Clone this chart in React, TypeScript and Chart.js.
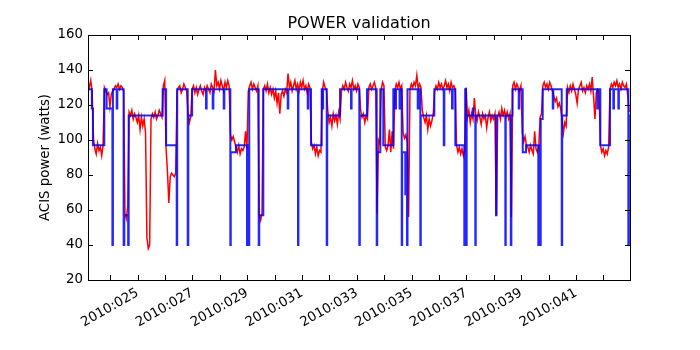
import React, { useEffect, useRef } from 'react';
import { Chart, registerables } from 'chart.js';

Chart.register(...registerables);

const chartTitle = 'POWER validation';
const yAxisTitle = 'ACIS power (watts)';
const xMin = 23.19;
const xMax = 42.97;
const yMin = 20;
const yMax = 160;
const yStep = 20;
const xTickDays = [25, 27, 29, 31, 33, 35, 37, 39, 41];
const xTickLabels = ['2010:025', '2010:027', '2010:029', '2010:031', '2010:033', '2010:035', '2010:037', '2010:039', '2010:041'];

// Telemetry (red): regular sampling from telemStart, one sample every telemStep days
const telemStart = 23.19;
const telemStep = 0.05;
const telemPower = [
  133, 130, 134, 128,
  101, 95, 92, 98, 94, 96, 91, 97,
  130, 128, 126, 127, 119, 126, 128, 129, 131, 130, 132, 129, 131, 130, 128,
  58, 55, 62,
  116, 114, 117, 112, 115, 113, 110, 114, 106, 113, 108, 112, 104,
  44, 38, 40,
  112, 115, 113, 116, 112, 114, 117, 115, 113,
  131, 134,
  95, 82, 64, 79, 81, 80, 79, 81,
  128, 130, 131, 127, 129, 132, 130, 128,
  115, 110, 113,
  129, 131, 127, 130, 126, 129, 131, 128, 126, 130, 128, 131, 129, 127, 132, 130, 128, 140, 131, 133, 129, 134, 131, 128, 133, 130, 134, 131,
  103, 100, 102, 99,
  96, 93, 97, 92, 95, 94, 96, 105, 95,
  128, 131, 133, 129, 132, 130, 128, 131,
  57, 54, 58,
  129, 131, 128, 132, 127, 130, 126, 129, 124, 128, 121, 127, 115, 126, 128, 125, 129, 127, 138, 130, 133, 128, 131, 134, 129, 132, 128, 133, 130, 134, 129, 131, 127, 132, 130,
  99, 95, 97, 92, 96, 91, 94, 93,
  128, 133, 130, 129,
  117, 110, 113, 108, 115, 111, 114, 109, 116, 112,
  128, 131, 129, 133, 130, 128, 132, 130, 134, 129, 131, 128, 132, 130,
  117, 113, 115, 110, 114, 112,
  130, 132, 129, 131, 133, 130,
  58,
  100, 98,
  129, 133, 131,
  96, 94, 97, 106, 93, 105, 95,
  128, 132, 130, 133, 129, 131,
  104, 101, 103, 99, 56,
  129, 132, 130, 133, 131, 137, 129, 132, 130,
  117, 113, 110, 114, 106, 112, 108, 111, 115,
  128, 131, 129, 133, 130, 132, 129, 131, 134, 130, 132, 128, 133, 130, 131, 129,
  97, 93, 96, 92, 95, 91, 94,
  130,
  113, 117, 110, 115, 112, 124, 114, 111, 116, 113, 109, 115, 112, 114, 107, 113, 116, 111, 114, 112, 115, 57, 113, 116, 112, 118, 114, 117, 113, 116, 112, 115, 56,
  131, 133, 129, 132, 130, 128, 131,
  104, 99, 102, 97,
  96, 93, 97, 94, 92, 105, 95, 93,
  96, 113, 115,
  131, 133, 130, 132, 129, 133, 131, 128,
  125, 122, 124, 119, 121, 118,
  112, 104, 110, 108,
  130, 127, 131, 128, 132, 129, 126, 121, 129, 131, 133, 128, 130, 127, 131, 129, 132, 128, 136, 125, 112, 127, 129, 128,
  97, 93, 95, 91, 94, 92, 96,
  129, 132, 130, 133, 131, 134, 130, 132, 129, 133, 131, 130, 132,
  125, 116,
];

// Model (blue): step function, each value holds from its time to the next time
const modelTimes = [
  23.19, 23.33, 23.37, 23.785, 23.87, 24.08, 24.10, 24.237, 24.26, 24.49,
  24.515, 24.655, 24.675, 25.915, 26.04, 26.427, 26.445, 26.829, 26.85, 26.99,
  27.497, 27.52, 27.741, 27.765, 28.143, 28.165, 28.384, 28.40, 28.59, 28.993,
  29.01, 29.055, 29.075, 29.42, 29.44, 29.588, 30.479, 30.50, 30.854, 30.87,
  31.208, 31.23, 31.329, 31.719, 31.74, 31.77, 31.902, 31.92, 32.387, 32.788,
  32.81, 33.091, 33.11, 33.372, 33.726, 33.745, 33.858, 33.967, 34.332, 34.405,
  34.43, 34.56, 34.58, 34.639, 34.655, 34.77, 34.79, 34.832, 34.85, 35.223,
  35.245, 35.318, 35.335, 35.829, 36.172, 36.195, 36.475, 36.50, 36.595, 36.923,
  36.955, 36.985, 37.01, 37.23, 37.255, 37.325, 37.34, 38.08, 38.10, 38.42,
  38.435, 38.62, 38.64, 38.68, 38.909, 38.93, 39.055, 39.175, 39.624, 39.645,
  39.67, 39.712, 39.785, 40.15, 40.17, 40.478, 40.495, 40.661, 41.777, 41.80,
  41.887, 42.241, 42.362, 42.385, 42.544, 42.565, 42.909, 42.93, 42.97,
];
const modelPower = [
  129, 118, 97, 129, 118, 40, 129, 118, 129, 40,
  57, 40, 114, 129, 97, 40, 129, 40, 114, 129,
  118, 129, 118, 129, 118, 129, 40, 93, 97, 40,
  97, 40, 129, 40, 57, 129, 118, 129, 40, 129,
  118, 129, 97, 129, 118, 129, 40, 114, 129, 118,
  129, 40, 114, 129, 40, 93, 129, 97, 129, 118,
  129, 118, 129, 40, 93, 69, 93, 40, 129, 118,
  129, 40, 114, 129, 97, 129, 118, 129, 97, 40,
  129, 40, 114, 118, 114, 40, 114, 57, 114, 40,
  114, 40, 114, 129, 118, 129, 93, 97, 40, 97,
  40, 112, 129, 118, 129, 40, 114, 129, 118, 129,
  97, 129, 118, 129, 118, 129, 40, 114, 114,
];

const FONT = '"DejaVu Sans", "Liberation Sans", sans-serif';

const decorPlugin = {
  id: 'decor',
  afterDraw(chart: any) {
    const { ctx, chartArea: a, scales } = chart;
    const xs = scales.x;
    const ys = scales.y;
    ctx.save();
    ctx.strokeStyle = '#000';
    ctx.lineWidth = 1;
    const tl = 5;
    ctx.beginPath();
    xs.ticks.forEach((t: any) => {
      const px = Math.round(xs.getPixelForValue(t.value)) + 0.5;
      ctx.moveTo(px, a.bottom);
      ctx.lineTo(px, a.bottom - tl);
      ctx.moveTo(px, a.top);
      ctx.lineTo(px, a.top + tl);
    });
    ys.ticks.forEach((t: any) => {
      const py = Math.round(ys.getPixelForValue(t.value)) + 0.5;
      ctx.moveTo(a.left, py);
      ctx.lineTo(a.left + tl, py);
      ctx.moveTo(a.right, py);
      ctx.lineTo(a.right - tl, py);
    });
    ctx.stroke();
    ctx.strokeRect(a.left + 0.5, a.top + 0.5, a.right - a.left, a.bottom - a.top);

    ctx.fillStyle = '#000';
    ctx.font = `16px ${FONT}`;
    ctx.textAlign = 'center';
    ctx.textBaseline = 'alphabetic';
    ctx.fillText(chartTitle, (a.left + a.right) / 2, a.top - 6.7);

    ctx.font = `13.33px ${FONT}`;
    ctx.translate(48.5, (a.top + a.bottom) / 2);
    ctx.rotate(-Math.PI / 2);
    ctx.textAlign = 'center';
    ctx.textBaseline = 'alphabetic';
    ctx.fillText(yAxisTitle, 0, 0);
    ctx.restore();
  },
};

export default function App() {
  const ref = useRef<HTMLCanvasElement | null>(null);
  useEffect(() => {
    if (!ref.current) return;
    const telemData = telemPower.map((v, i) => ({ x: telemStart + i * telemStep, y: v }));
    const modelData = modelTimes.map((t, i) => ({ x: t, y: modelPower[i] }));
    const chart = new Chart(ref.current, {
      type: 'line',
      data: {
        datasets: [
          {
            label: 'model',
            data: modelData,
            borderColor: 'rgba(0,0,255,0.85)',
            borderWidth: 2,
            pointRadius: 0,
            stepped: true,
            tension: 0,
          },
          {
            label: 'telemetry',
            data: telemData,
            borderColor: '#ff0000',
            borderWidth: 1.5,
            pointRadius: 0,
            tension: 0,
          },
        ],
      },
      options: {
        responsive: false,
        animation: false,
        events: [],
        parsing: false as any,
        layout: { padding: { left: 0, right: 70, top: 35, bottom: 0 } },
        plugins: { legend: { display: false }, tooltip: { enabled: false }, title: { display: false } },
        scales: {
          x: {
            type: 'linear',
            min: xMin,
            max: xMax,
            grid: { display: false, drawTicks: false },
            border: { display: false },
            afterFit: (s: any) => { s.height = 70; },
            ticks: {
              stepSize: 1,
              includeBounds: false,
              autoSkip: false,
              minRotation: 30,
              maxRotation: 30,
              padding: 5,
              color: '#000',
              font: { family: FONT, size: 13.33 },
              callback: (v: any) => {
                const idx = xTickDays.indexOf(Math.round(Number(v)));
                return idx >= 0 ? xTickLabels[idx] : '';
              },
            },
          },
          y: {
            type: 'linear',
            min: yMin,
            max: yMax,
            grid: { display: false, drawTicks: false },
            border: { display: false },
            afterFit: (s: any) => { s.width = 88; },
            ticks: {
              stepSize: yStep,
              padding: 5,
              color: '#000',
              font: { family: FONT, size: 13.33 },
            },
          },
        },
      },
      plugins: [decorPlugin],
    });
    return () => chart.destroy();
  }, []);
  return (
    <div style={{ position: 'absolute', left: 0, top: 0, width: 700, height: 350, background: '#fff' }}>
      <canvas ref={ref} width={700} height={350} />
    </div>
  );
}
